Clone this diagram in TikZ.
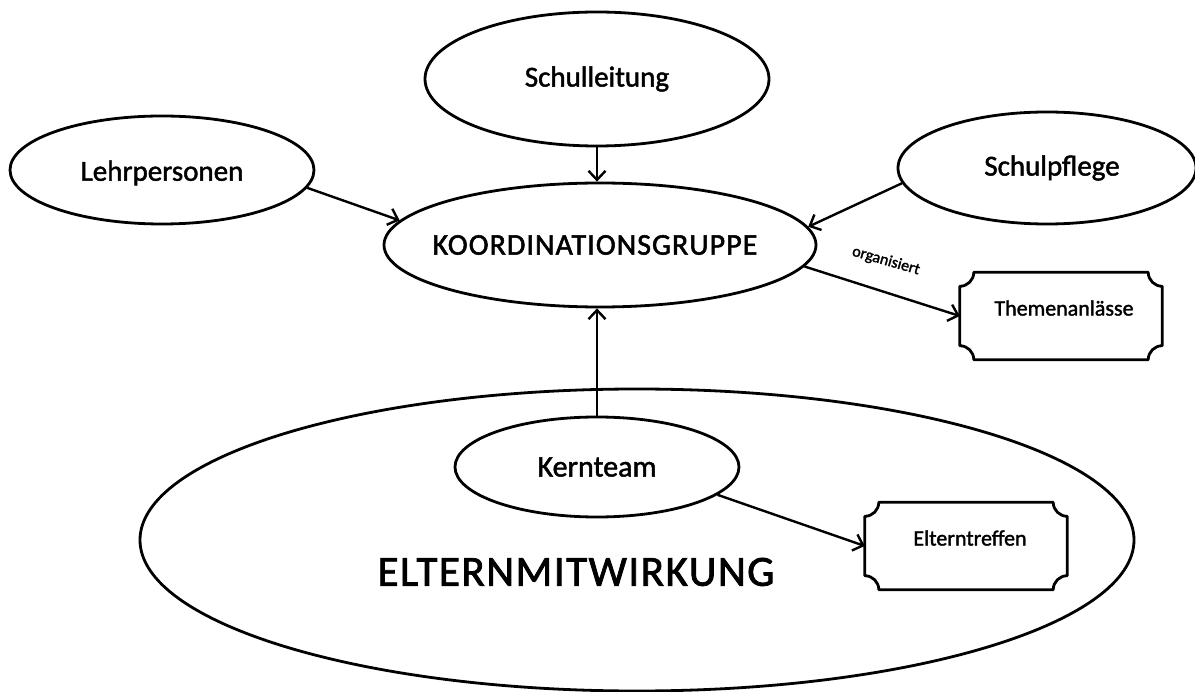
\documentclass[tikz,border=0pt]{standalone}
\usepackage{fontspec}
\usetikzlibrary{shapes.geometric,arrows.meta,calc}
\newfontfamily\lab{Carlito}[FakeBold=1.6]
\newfontfamily\labw{Carlito}[FakeBold=1.8,LetterSpace=3.5]
\newcommand\plaque[2]{%
\draw[line width=2.8pt,line join=round] let \p1=(#1.north west), \p2=(#1.south east) in
 ({\x1},{\y1-#2}) .. controls ({\x1+0.55*#2},{\y1-#2}) and ({\x1+#2},{\y1-0.55*#2}) .. ({\x1+#2},{\y1})
 -- ({\x2-#2},{\y1})
 .. controls ({\x2-#2},{\y1-0.55*#2}) and ({\x2-0.55*#2},{\y1-#2}) .. ({\x2},{\y1-#2})
 -- ({\x2},{\y2+#2})
 .. controls ({\x2-0.55*#2},{\y2+#2}) and ({\x2-#2},{\y2+0.55*#2}) .. ({\x2-#2},{\y2})
 -- ({\x1+#2},{\y2})
 .. controls ({\x1+#2},{\y2+0.55*#2}) and ({\x1+0.55*#2},{\y2+#2}) .. ({\x1},{\y2+#2})
 -- cycle;}
\begin{document}
\begin{tikzpicture}[x=1pt,y=-1pt,
  ell/.style={ellipse,draw,line width=2.8pt,inner sep=0pt},
  lbl/.style={inner sep=0pt,font=\lab\fontsize{29}{32}\selectfont},
  arr/.style={line width=2.4pt,-{Straight Barb[length=9pt,width=17pt]}},
  plq/.style={rectangle,inner sep=0pt,minimum width=202pt,minimum height=87pt},
  txt/.style={inner sep=0pt,font=\lab\fontsize{22}{24}\selectfont}]
\useasboundingbox[fill=white] (0,0) rectangle (1195,692);
\node[ell,minimum width=994pt,minimum height=302pt] (elt) at (637,540) {};
\node[inner sep=0pt,font=\labw\fontsize{43}{48}\selectfont] (eltlabel) at (576,572) {ELTERNMITWIRKUNG};
\node[ell,minimum width=344pt,minimum height=134pt,label={[lbl]center:Schulleitung}] (sl) at (597,79) {};
\node[ell,minimum width=304pt,minimum height=108pt,label={[lbl,yshift=-3pt]center:Lehrpersonen}] (lp) at (162,170) {};
\node[ell,minimum width=298pt,minimum height=112pt,label={[lbl,xshift=5pt]center:Schulpflege}] (sp) at (1047,168) {};
\node[ell,minimum width=432pt,minimum height=124pt,label={[lbl,xshift=-5pt,font=\labw\fontsize{30}{34}\selectfont]center:KOORDINATIONSGRUPPE}] (kg) at (600,245) {};
\node[ell,minimum width=284pt,minimum height=100pt,label={[lbl,font=\lab\fontsize{30}{34}\selectfont]center:Kernteam}] (kt) at (597,467) {};
\node[plq] (th) at (1061,316) {};
\node[plq] (et) at (966,546) {};
\plaque{th}{14pt}
\plaque{et}{14pt}
\node[txt] (thl) at (1064,308) {Themenanlässe};
\node[txt] (etl) at (970,538) {Elterntreffen};
\node[inner sep=0pt,font=\lab\fontsize{16}{18}\selectfont,rotate=-16] (org) at (886,261) {organisiert};
\draw[arr] (sl.south) -- (sl.south |- kg.north);
\draw[arr] (lp.-7) -- (kg.173.5);
\draw[arr] (sp.-174) -- (kg.5.4);
\draw[arr] (kt.north) -- (kt.north |- kg.south);
\draw[arr] (kg.-6.4) -- (th.west);
\draw[arr] (kt.-13.4) -- (et.west);
\end{tikzpicture}
\end{document}
